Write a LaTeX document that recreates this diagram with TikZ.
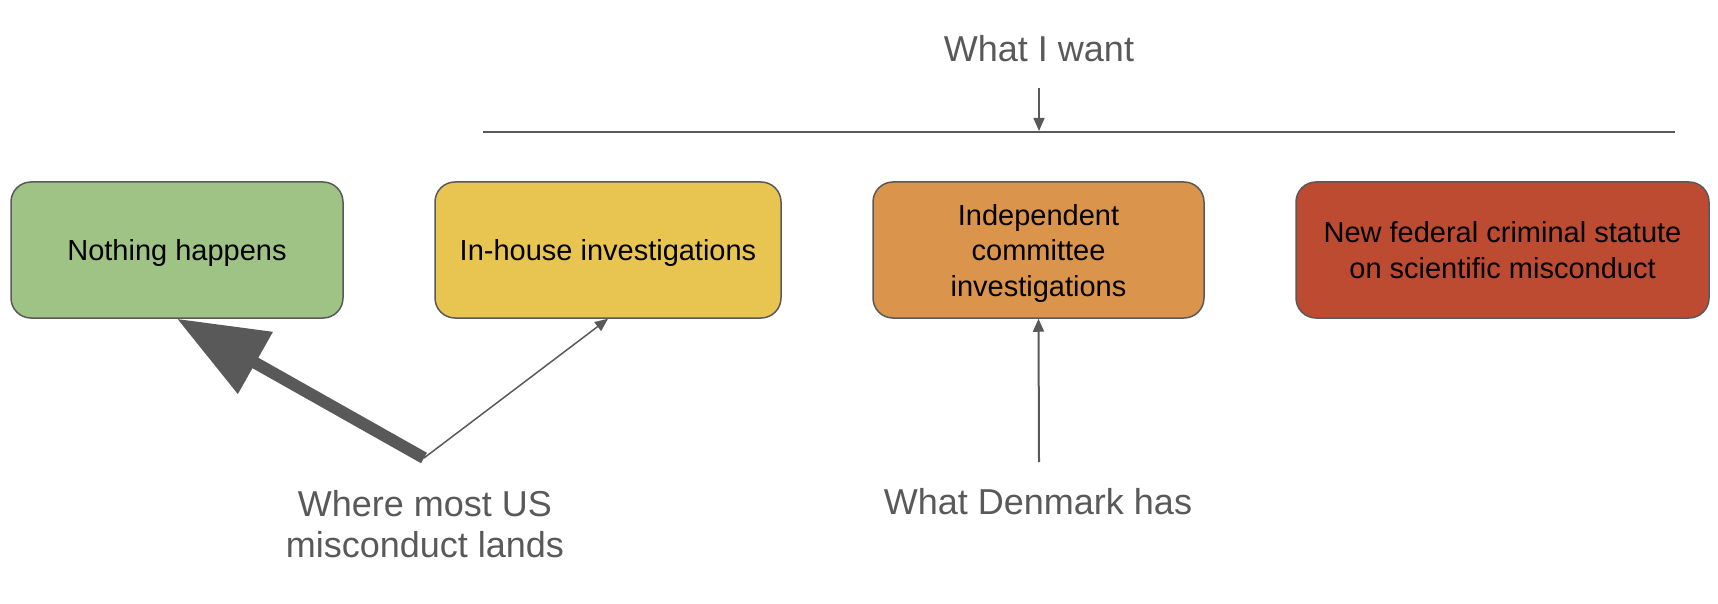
\documentclass[tikz,border=0pt]{standalone}
\usepackage{fontspec}
\setmainfont{Liberation Sans}
\usetikzlibrary{arrows.meta}
\definecolor{gry}{HTML}{595959}
\definecolor{cgreen}{HTML}{9EC385}
\definecolor{cyellow}{HTML}{E8C451}
\definecolor{corange}{HTML}{DA944B}
\definecolor{cred}{HTML}{BC4B32}
\begin{document}
\begin{tikzpicture}[x=1pt,y=-1pt,
  box/.style={draw=gry, line width=1.5pt, rounded corners=20pt, minimum height=136pt,
    align=center, inner sep=0pt, text=black, text depth=0pt, font=\fontsize{29}{35.5}\selectfont},
  lbltext/.style={text=gry, align=center, font=\fontsize{36}{41}\selectfont},
  thin/.style={draw=gry, line width=1.5pt, -{Triangle[length=13pt,width=11pt]}},
]
\useasboundingbox (0,0) rectangle (1718,604);
% boxes
\node[box, fill=cgreen, minimum width=332pt] (nothing) at (177,250) {Nothing happens};
\node[box, fill=cyellow, minimum width=346pt] (inhouse) at (608,250) {In-house investigations};
\node[box, fill=corange, minimum width=331pt] (indep) at (1038.5,250) {Independent\\committee\\investigations};
\node[box, fill=cred, minimum width=413pt] (statute) at (1502.5,250) {New federal criminal statute\\on scientific misconduct};
% labels
\node[lbltext, anchor=base] (want) at (1039,62) {What I want};
\node[lbltext, anchor=base] (denmark) at (1038,514) {What Denmark has};
\node[lbltext] (where) at (425,524) {Where most US\\misconduct lands};
% top line and arrow
\coordinate (lineL) at (483,132);
\coordinate (lineR) at (1675,132);
\draw[gry, line width=2pt] (lineL) -- (lineR);
\coordinate (wantstart) at (1039,88);
\coordinate (wanttip) at (1039,131);
\draw[thin] (wantstart) -- (wanttip);
% arrows from "where"
\coordinate (src) at (424,458);
\draw[draw=gry, line width=12pt, -{Triangle[length=90pt,width=68pt]}] (src) -- (nothing.south);
\draw[thin] (src) -- (inhouse.south);
% Denmark arrow
\coordinate (dstart) at (1039,462);
\draw[thin, line width=2pt] (dstart) -- (indep.south);
\end{tikzpicture}
\end{document}
